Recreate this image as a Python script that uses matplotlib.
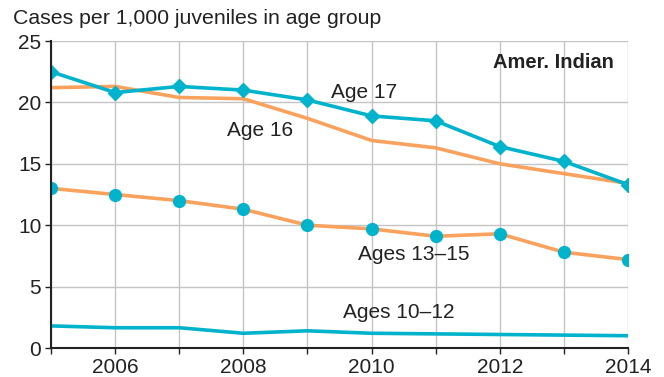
import numpy as np
import matplotlib.pyplot as plt

plt.rcParams['font.family'] = ['Liberation Sans', 'DejaVu Sans']

years = [2005, 2006, 2007, 2008, 2009, 2010, 2011, 2012, 2013, 2014]
age17 = [22.5, 20.8, 21.3, 21.0, 20.2, 18.9, 18.5, 16.4, 15.2, 13.3]
age16 = [21.2, 21.3, 20.4, 20.3, 18.7, 16.9, 16.3, 15.0, 14.2, 13.4]
age13_15 = [13.0, 12.5, 12.0, 11.3, 10.0, 9.7, 9.1, 9.3, 7.8, 7.2]
age10_12 = [1.8, 1.65, 1.65, 1.2, 1.4, 1.2, 1.15, 1.1, 1.05, 1.0]

cyan = '#00b3cc'
orange = '#f9a25e'

fig = plt.figure(figsize=(6.64, 3.77), dpi=100)
ax = fig.add_axes([51 / 664, 1 - 348 / 377, 577 / 664, 307 / 377])

ax.plot(years, age16, color=orange, lw=2.6, zorder=3)
ax.plot(years, age13_15, color=orange, lw=2.6, zorder=3,
        marker='o', ms=8.5, mfc=cyan, mec=cyan)
ax.plot(years, age17, color=cyan, lw=2.6, zorder=4,
        marker='D', ms=7.5, mfc=cyan, mec=cyan)
ax.plot(years, age10_12, color=cyan, lw=2.6, zorder=3)

ax.set_xlim(2005, 2014)
ax.set_ylim(0, 25)
ax.set_xticks(years)
ax.set_xticklabels(['' if y % 2 else str(y) for y in years])
ax.set_yticks([0, 5, 10, 15, 20, 25])
ax.grid(True, color='#c4c4c4', lw=1)
ax.set_axisbelow(True)
for s in ['top', 'right']:
    ax.spines[s].set_visible(False)
for s in ['left', 'bottom']:
    ax.spines[s].set_color('#222222')
    ax.spines[s].set_linewidth(1.5)
    ax.spines[s].set_zorder(5)
ax.tick_params(length=4, width=1, color='#222222', labelsize=15,
               labelcolor='#222222', pad=3)
for lab in ax.get_xticklabels() + ax.get_yticklabels():
    lab.set_clip_on(False)

fig.text(13 / 664, 1 - 18 / 377, 'Cases per 1,000 juveniles in age group',
         fontsize=15.3, color='#222222', va='center', ha='left')
fig.text(614 / 664, 1 - 62 / 377, 'Amer. Indian', fontsize=14.5,
         fontweight='bold', color='#222222', va='center', ha='right')

lab_kw = dict(fontsize=15, color='#222222', va='center', ha='left')
fig.text(331 / 664, 1 - 93 / 377, 'Age 17', **lab_kw)
fig.text(227 / 664, 1 - 131 / 377, 'Age 16', **lab_kw)
fig.text(358 / 664, 1 - 255 / 377, 'Ages 13\u201315', **lab_kw)
fig.text(343 / 664, 1 - 313 / 377, 'Ages 10\u201312', **lab_kw)

fig.savefig('out.png', dpi=100)
